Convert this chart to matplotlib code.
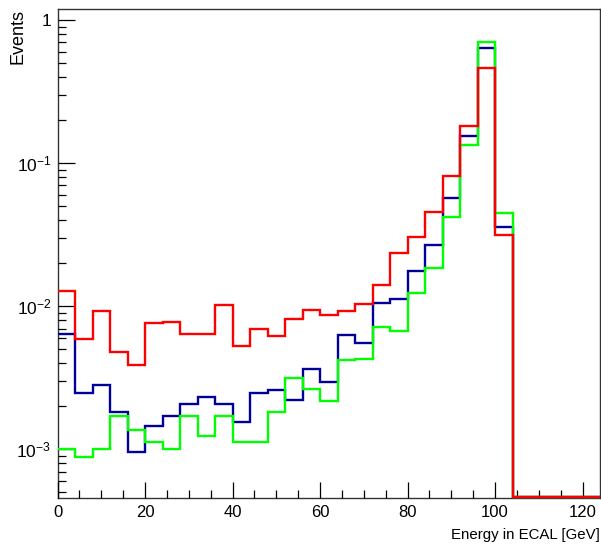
import numpy as np
import matplotlib
matplotlib.use("Agg")
import matplotlib.pyplot as plt
from matplotlib.ticker import LogLocator, FixedLocator, MultipleLocator, FuncFormatter

# ---- data ----
bin_edges = np.arange(0, 125, 4)  # 0..124, 31 bins of 4 GeV
red_vals = [0.0128, 0.0059, 0.0093, 0.0048, 0.0039, 0.0076, 0.0078, 0.0064, 0.0064, 0.0103,
            0.0053, 0.0070, 0.0062, 0.0081, 0.0095, 0.0087, 0.0093, 0.0104, 0.0141, 0.0236,
            0.0304, 0.0457, 0.081, 0.181, 0.462, 0.0316, 0, 0, 0, 0, 0]
blue_vals = [0.00645, 0.00247, 0.00284, 0.00183, 0.00096, 0.00145, 0.00171, 0.00207, 0.00234, 0.00207,
             0.00156, 0.00246, 0.0026, 0.00222, 0.00363, 0.00298, 0.0063, 0.0055, 0.0105, 0.0112,
             0.0177, 0.027, 0.0568, 0.155, 0.638, 0.036, 0, 0, 0, 0, 0]
green_vals = [0.00101, 0.00089, 0.00101, 0.00171, 0.00136, 0.00112, 0.00101, 0.00171, 0.00125, 0.00171,
              0.00112, 0.00112, 0.00183, 0.00316, 0.00264, 0.00219, 0.00425, 0.00426, 0.00716, 0.0067,
              0.0123, 0.0186, 0.0423, 0.135, 0.705, 0.045, 0, 0, 0, 0, 0]
xlabel = "Energy in ECAL [GeV]"
ylabel = "Events"

fam = "Liberation Sans"
plt.rcParams['font.family'] = [fam, 'DejaVu Sans']
plt.rcParams['mathtext.fontset'] = 'custom'
plt.rcParams['mathtext.rm'] = fam
plt.rcParams['mathtext.it'] = fam
plt.rcParams['mathtext.bf'] = fam

W, H = 601, 546
fig = plt.figure(figsize=(W / 100, H / 100), dpi=100)
ax = fig.add_axes([57.5 / W, 1 - 497.6 / H, (600 - 57.5) / W, (497.6 - 9) / H])

ymin, ymax = 4.6e-4, 1.2
ax.set_yscale('log')
ax.set_xlim(0, 124)
ax.set_ylim(ymin, ymax)

for vals, col in [(blue_vals, '#000099'), (green_vals, '#00ff00'), (red_vals, '#ff0000')]:
    v = np.asarray(vals, dtype=float)
    v = np.where(v > 0, v, ymin * 1.005)
    ax.stairs(v, bin_edges, baseline=None, color=col, lw=1.7, clip_on=False, zorder=5)

ax.xaxis.set_major_locator(MultipleLocator(20))
ax.xaxis.set_minor_locator(MultipleLocator(5))
ax.yaxis.set_major_locator(FixedLocator([1e-3, 1e-2, 1e-1, 1]))
ax.yaxis.set_minor_locator(LogLocator(base=10, subs=np.arange(2, 10)))

def yfmt(v, pos):
    e = int(round(np.log10(v)))
    if e == 0:
        return "1"
    return r"$10^{\mathrm{-%d}}$" % (-e)

ax.yaxis.set_major_formatter(FuncFormatter(yfmt))
ax.yaxis.set_minor_formatter(FuncFormatter(lambda v, p: ""))

ax.tick_params(axis='both', which='both', direction='in', top=False, right=False,
               color='black', width=0.9)
ax.tick_params(axis='x', which='major', length=11.5, pad=5, labelsize=12)
ax.tick_params(axis='x', which='minor', length=5.8)
ax.tick_params(axis='y', which='major', length=12, pad=4.5, labelsize=12.5)
ax.tick_params(axis='y', which='minor', length=6)
for s in ax.spines.values():
    s.set_linewidth(1.0)
    s.set_color('#333333')
    s.set_zorder(1)
ax.xaxis.set_zorder(1)
ax.yaxis.set_zorder(1)

fig.text(600 / W, 1 - 535 / H, xlabel, ha='right', va='center', fontsize=10.8)
fig.text(17.5 / W, 1 - 9 / H, ylabel, ha='center', va='top', rotation=90, fontsize=13)

fig.savefig("out.png", dpi=100)
